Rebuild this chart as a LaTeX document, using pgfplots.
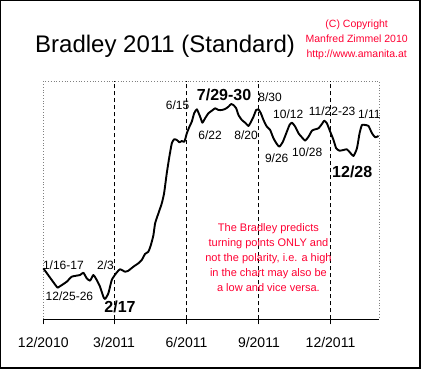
\documentclass[border=0pt]{standalone}
\usepackage{fontspec}
\setmainfont{Liberation Sans}
\usepackage{pgfplots}
\usepackage{pgfplotstable}
\pgfplotsset{compat=1.18}
\definecolor{cred}{RGB}{255,0,51}
\pgfplotstableread{
x y
0 51.0
17.0 32.6
19.1 32.0
29.8 37.6
36.1 42.6
46.7 44.3
50.9 46.6
55.2 41.0
59.4 38.6
63.6 44.3
67.9 39.3
72.1 32.6
76.3 22.6
78.5 20.3
82.7 26.0
87.0 39.3
92.5 46.0
97.5 50.0
103.9 47.6
108.1 48.6
114.5 52.6
120.8 56.0
125.1 59.3
129.3 65.3
133.5 67.6
136.6 74
139.9 84
142.1 96
146.3 106
150.6 116
153.5 126
156.9 146
160.2 162.6
163.3 176
166.2 180
169.7 179.3
173.0 177
176.0 178.3
179.3 177.6
182.4 186
185.7 192.6
188.7 197.6
191.7 206
195.1 210
199.3 202.6
202.2 196.6
205.6 201
209.8 206
214.2 208.6
218.4 211
222.6 209.3
226.9 209.3
231.1 210.3
235.3 212.6
238.7 215.3
241.6 214.3
245.1 211
248.0 204.3
252.3 199.3
256.5 196.6
260.7 193.3
262.9 196
267.1 202.6
270.5 209.3
273.4 210
276.5 206
279.8 199.3
284.1 192.6
288.3 189.3
292.5 181
296.8 175.3
300.1 172.6
304.5 177.6
308.7 186
312.9 194.3
316.0 196.6
320.2 192.6
324.3 186
328.6 182
332.8 178.6
337.0 182.6
341.4 188.6
345.6 190
349.7 191
354.1 195.3
357.0 198.6
360.4 196
364.6 187.6
368.8 179.3
372.2 171
376.4 168.6
381.5 169.3
385.8 170
390.0 166.6
394.2 163.3
398.6 171
401.9 186
404.9 194.3
409.1 194.3
413.3 193.3
417.7 186
421.9 182
426.0 183.3
}\bradley
\begin{document}
\begin{tikzpicture}[x=1bp,y=1bp]
\useasboundingbox (0,0) rectangle (422,369);
\fill[white] (0,0) rectangle (422,369);
\draw[line width=1.2bp] (0.6,1) rectangle (420,368.4);
\begin{axis}[at={(43.3bp,49.7bp)},anchor=south west,scale only axis,
  width=336bp,height=238.3bp,
  xmin=0,xmax=427,ymin=0,ymax=238.3,
  axis line style={draw=none},
  xtick={0,90,182,274,365},
  xticklabels={12/2010,3/2011,6/2011,9/2011,12/2011},
  ytick=\empty, xtick pos=left,
  tick align=outside, major tick length=5bp,
  tick style={black, line width=1bp},
  xticklabel style={font=\fontsize{14bp}{16bp}\selectfont, yshift=-10bp},
  clip=false]
\draw[gray, dotted, line width=0.8bp] (rel axis cs:0,0) -- (rel axis cs:0,1) -- (rel axis cs:1,1) -- (rel axis cs:1,0);
\draw[black, line width=1bp] (rel axis cs:0,0) -- (rel axis cs:1,0);
\foreach \d in {90,182,274,365}{
  \edef\temp{\noexpand\draw[black, line width=0.9bp, dash pattern=on 4bp off 3bp] (axis cs:\d,0) -- (axis cs:\d,238.3);}
  \temp
}
\addplot[black, line width=1.9bp, line join=round, smooth, tension=0.3] table[x=x,y=y] {\bradley};
\begin{scope}[every node/.style={font=\fontsize{12bp}{14bp}\selectfont, inner sep=0}]
\node at (axis cs:25.5,54.3) {1/16-17};
\node at (axis cs:79,54.3) {2/3};
\node at (axis cs:33.2,22.6) {12/25-26};
\node at (axis cs:170.7,214.3) {6/15};
\node at (axis cs:288.3,222.3) {8/30};
\node at (axis cs:212.0,184.3) {6/22};
\node at (axis cs:257.8,184.3) {8/20};
\node at (axis cs:311.2,205.3) {10/12};
\node at (axis cs:367.1,208.3) {11/22-23};
\node at (axis cs:414.2,205.3) {1/11};
\node at (axis cs:296.6,161.3) {9/26};
\node at (axis cs:335.4,167.3) {10/28};
\end{scope}
\begin{scope}[every node/.style={font=\bfseries\fontsize{16bp}{18bp}\selectfont, inner sep=0}]
\node at (axis cs:97.5,12.3) {2/17};
\node at (axis cs:229.8,224.3) {7/29-30};
\node at (axis cs:392.6,147.3) {12/28};
\end{scope}
\node[text=cred, font=\fontsize{11bp}{15bp}\selectfont, align=center, inner sep=0] at (axis cs:286.1,61.3)
  {The Bradley predicts\\turning points ONLY and\\not the polarity, i.e. a high\\in the chart may also be\\a low and vice versa.};
\end{axis}
\node[anchor=base west, inner sep=0, font=\fontsize{24bp}{28bp}\selectfont] at (35,317) {Bradley 2011 (Standard)};
\node[text=cred, align=center, inner sep=0, font=\fontsize{10.5bp}{14.7bp}\selectfont] at (356.7,329.2)
  {(C) Copyright\\Manfred Zimmel 2010\\http://www.amanita.at};
\end{tikzpicture}
\end{document}
